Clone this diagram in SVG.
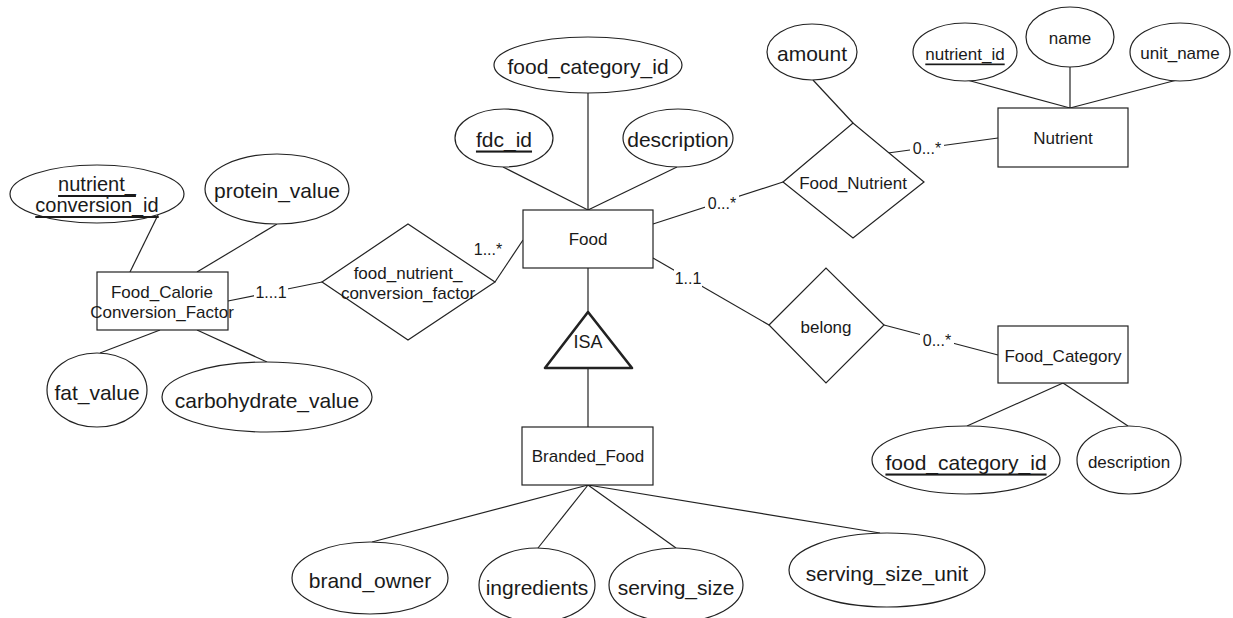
<svg xmlns="http://www.w3.org/2000/svg" width="1233" height="618" viewBox="0 0 1233 618">
<style>
  .shape { fill: #ffffff; stroke: #222222; stroke-width: 1.2; }
  .isa { fill: #ffffff; stroke: #222222; stroke-width: 2.6; stroke-linejoin: round; }
  .conn line, .conn polyline { stroke: #222222; stroke-width: 1.2; fill: none; }
  .lblbg { fill: #ffffff; stroke: none; }
  text { font-family: "Liberation Sans", Arial, Helvetica, sans-serif; fill: #1a1a1a; text-anchor: middle; dominant-baseline: central; }
  .big { font-size: 21px; }
  .sm { font-size: 17px; }
  .card { font-size: 16px; }
  .key { text-decoration: underline; }
</style>
<rect x="0" y="0" width="1233" height="618" fill="#ffffff"/>

<g id="connectors" class="conn">
  <!-- Food attributes -->
  <line x1="588" y1="93" x2="588" y2="210"/>
  <line x1="503" y1="167" x2="588" y2="210"/>
  <line x1="677" y1="167" x2="588" y2="210"/>
  <!-- Food - Food_Nutrient -->
  <line x1="653" y1="224" x2="783" y2="182"/>
  <!-- amount -->
  <line x1="813" y1="80" x2="853" y2="123"/>
  <!-- Food_Nutrient - Nutrient -->
  <line x1="888" y1="153" x2="998" y2="138"/>
  <!-- Nutrient attributes -->
  <line x1="967" y1="80" x2="1070" y2="108"/>
  <line x1="1070" y1="67" x2="1070" y2="108"/>
  <line x1="1177" y1="80" x2="1070" y2="108"/>
  <!-- Food - belong -->
  <line x1="653" y1="258" x2="769" y2="325"/>
  <!-- belong - Food_Category -->
  <line x1="884" y1="325" x2="998" y2="355"/>
  <!-- Food_Category attributes -->
  <line x1="1063" y1="383" x2="967" y2="426"/>
  <line x1="1063" y1="383" x2="1128" y2="426"/>
  <!-- Food - conversion factor diamond -->
  <line x1="523" y1="240" x2="495" y2="282"/>
  <!-- diamond - Food_Calorie -->
  <line x1="228" y1="301" x2="322" y2="282"/>
  <!-- Food_Calorie attributes -->
  <line x1="158" y1="215" x2="130" y2="272"/>
  <line x1="277" y1="224" x2="197" y2="272"/>
  <line x1="160" y1="330" x2="100" y2="353"/>
  <line x1="197" y1="330" x2="267" y2="362"/>
  <!-- ISA -->
  <line x1="588" y1="268" x2="588" y2="312"/>
  <line x1="588" y1="368" x2="588" y2="427"/>
  <!-- Branded_Food attributes -->
  <line x1="588" y1="485" x2="372" y2="542"/>
  <line x1="588" y1="485" x2="538" y2="548"/>
  <line x1="588" y1="485" x2="676" y2="548"/>
  <line x1="588" y1="485" x2="880" y2="533"/>

  <!-- cardinality labels -->
  <rect class="lblbg" x="705" y="193" width="34" height="18"/>
  <text class="card" x="722" y="203">0...*</text>
  <rect class="lblbg" x="910" y="139" width="34" height="18"/>
  <text class="card" x="927" y="148">0...*</text>
  <rect class="lblbg" x="674" y="269" width="28" height="18"/>
  <text class="card" x="688" y="278">1..1</text>
  <rect class="lblbg" x="920" y="331" width="34" height="18"/>
  <text class="card" x="937" y="340">0...*</text>
  <text class="card" x="488" y="249">1...*</text>
  <rect class="lblbg" x="254" y="283" width="34" height="18"/>
  <text class="card" x="271" y="292">1...1</text>
</g>

<g id="food">
  <rect class="shape" x="523" y="210" width="130" height="58"/>
  <text class="sm" x="588" y="239">Food</text>
</g>
<g id="food_food_category_id">
  <ellipse class="shape" cx="588" cy="65" rx="94" ry="28"/>
  <text class="big" x="588" y="66">food_category_id</text>
</g>
<g id="food_fdc_id">
  <ellipse class="shape" cx="504" cy="138" rx="49" ry="29"/>
  <text class="big key" x="504" y="139">fdc_id</text>
</g>
<g id="food_description">
  <ellipse class="shape" cx="678" cy="138" rx="55" ry="29"/>
  <text class="big" x="678" y="139">description</text>
</g>

<g id="food_nutrient">
  <polygon class="shape" points="783,182 853,123 924,182 853,238"/>
  <text class="sm" x="853" y="183">Food_Nutrient</text>
</g>
<g id="amount">
  <ellipse class="shape" cx="812" cy="52" rx="45" ry="28"/>
  <text class="big" x="812" y="53">amount</text>
</g>

<g id="nutrient">
  <rect class="shape" x="998" y="108" width="130" height="59"/>
  <text class="sm" x="1063" y="138">Nutrient</text>
</g>
<g id="nutrient_id">
  <ellipse class="shape" cx="965" cy="52" rx="52" ry="29"/>
  <text class="sm key" x="965" y="54">nutrient_id</text>
</g>
<g id="nutrient_name">
  <ellipse class="shape" cx="1070" cy="37" rx="44" ry="30"/>
  <text class="sm" x="1070" y="38">name</text>
</g>
<g id="nutrient_unit_name">
  <ellipse class="shape" cx="1180" cy="52" rx="50" ry="29"/>
  <text class="sm" x="1180" y="53">unit_name</text>
</g>

<g id="belong">
  <polygon class="shape" points="769,325 826,268 884,325 826,383"/>
  <text class="sm" x="826" y="327">belong</text>
</g>
<g id="food_category">
  <rect class="shape" x="998" y="326" width="130" height="57"/>
  <text class="sm" x="1063" y="356">Food_Category</text>
</g>
<g id="fc_food_category_id">
  <ellipse class="shape" cx="966" cy="460" rx="94" ry="34"/>
  <text class="big key" x="966" y="462">food_category_id</text>
</g>
<g id="fc_description">
  <ellipse class="shape" cx="1129" cy="460" rx="52" ry="34"/>
  <text class="sm" x="1129" y="462">description</text>
</g>

<g id="food_nutrient_conversion_factor">
  <polygon class="shape" points="322,282 408,224 495,282 408,340"/>
  <text class="sm" x="408" y="273">food_nutrient_</text>
  <text class="sm" x="408" y="293">conversion_factor</text>
</g>
<g id="food_calorie_conversion_factor">
  <rect class="shape" x="97" y="272" width="131" height="58"/>
  <text class="sm" x="162" y="292">Food_Calorie</text>
  <text class="sm" x="162" y="312">Conversion_Factor</text>
</g>
<g id="nutrient_conversion_id">
  <ellipse class="shape" cx="97" cy="194" rx="87" ry="29"/>
  <text class="key" x="97" y="184" style="font-size:20px">nutrient_</text>
  <text class="key" x="97" y="205" style="font-size:20px">conversion_id</text>
</g>
<g id="protein_value">
  <ellipse class="shape" cx="277" cy="189" rx="72" ry="35"/>
  <text class="big" x="277" y="190">protein_value</text>
</g>
<g id="fat_value">
  <ellipse class="shape" cx="97" cy="390" rx="50" ry="37"/>
  <text class="big" x="97" y="392">fat_value</text>
</g>
<g id="carbohydrate_value">
  <ellipse class="shape" cx="267" cy="397" rx="105" ry="35"/>
  <text class="big" x="267" y="400">carbohydrate_value</text>
</g>

<g id="isa">
  <polygon class="isa" points="588,312 632,368 545,368"/>
  <text class="sm" x="588" y="342" style="font-size:18px">ISA</text>
</g>

<g id="branded_food">
  <rect class="shape" x="522" y="427" width="131" height="58"/>
  <text class="sm" x="588" y="456">Branded_Food</text>
</g>
<g id="brand_owner">
  <ellipse class="shape" cx="370" cy="578" rx="78" ry="36"/>
  <text class="big" x="370" y="580">brand_owner</text>
</g>
<g id="ingredients">
  <ellipse class="shape" cx="537" cy="585" rx="58" ry="37"/>
  <text class="big" x="537" y="587">ingredients</text>
</g>
<g id="serving_size">
  <ellipse class="shape" cx="676" cy="585" rx="67" ry="37"/>
  <text class="big" x="676" y="587">serving_size</text>
</g>
<g id="serving_size_unit">
  <ellipse class="shape" cx="887" cy="570" rx="98" ry="37"/>
  <text class="big" x="887" y="573">serving_size_unit</text>
</g>
</svg>
